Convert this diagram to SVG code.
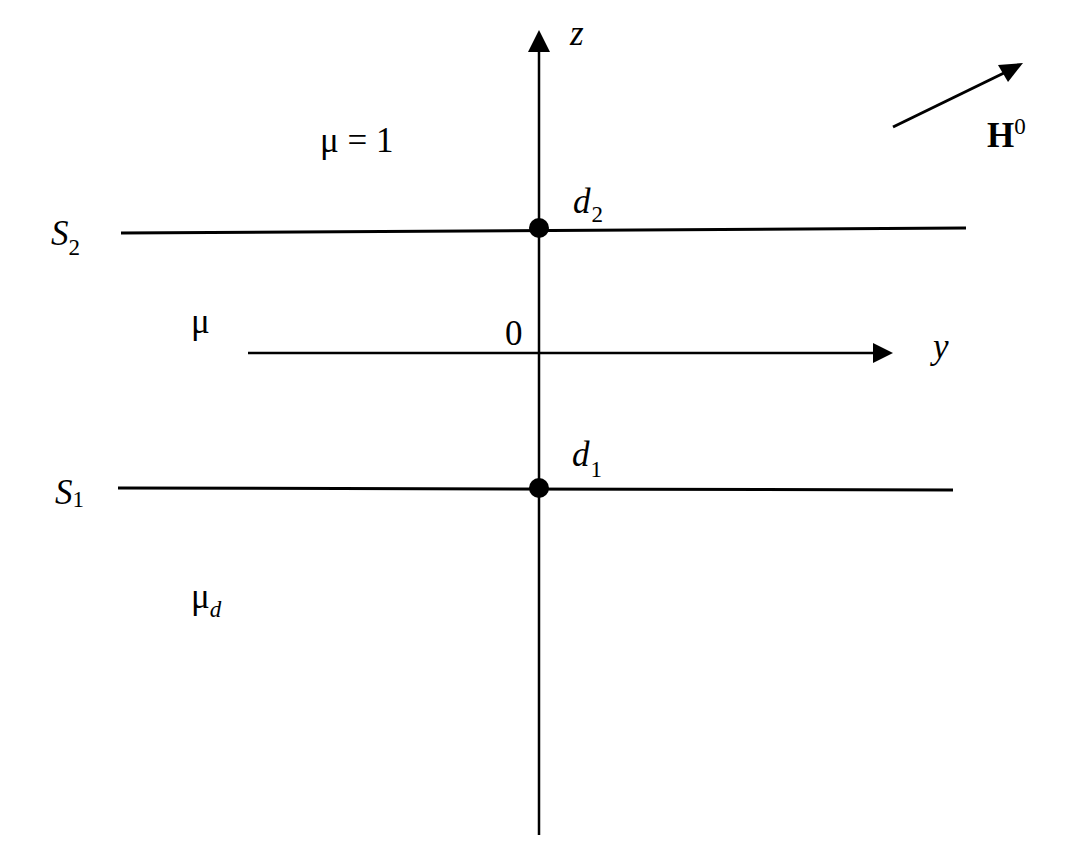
<svg xmlns="http://www.w3.org/2000/svg" width="1078" height="847" viewBox="0 0 1078 847">
<style>
.ln{stroke:#000;stroke-width:3;fill:none}
.ax{stroke:#000;stroke-width:2.5;fill:none}
.t{font-family:"Liberation Serif","Times New Roman",serif;font-size:35px;fill:#000}
.i{font-style:italic}
.sub{font-size:23px}
</style>
<rect width="1078" height="847" fill="#fff"/>
<g id="connectors">
<line class="ax" x1="539" y1="835" x2="539" y2="50"/>
<polygon points="539,30 528,52 550,52" fill="#000"/>
<line class="ax" x1="248" y1="353" x2="876" y2="353"/>
<polygon points="893,353 873,343 873,363" fill="#000"/>
<line class="ln" x1="121" y1="233" x2="966" y2="228"/>
<line class="ln" x1="118" y1="488" x2="953" y2="490"/>
<line class="ln" x1="893" y1="127" x2="1006" y2="72"/>
<polygon points="998,65 1023,63 1008,82" fill="#000"/>
</g>
<g id="d2-point"><circle cx="539" cy="228" r="10" fill="#000"/><text class="t i" x="573" y="213">d<tspan class="sub" dx="1" dy="9" font-style="normal">2</tspan></text></g>
<g id="d1-point"><circle cx="539" cy="488" r="10" fill="#000"/><text class="t i" x="572" y="466">d<tspan class="sub" dx="1" dy="11" font-style="normal">1</tspan></text></g>
<g id="z-label"><text class="t i" x="570" y="45">z</text></g>
<g id="y-label"><text class="t i" x="933" y="358">y</text></g>
<g id="origin"><text class="t" x="505" y="345">0</text></g>
<g id="H0"><text class="t" x="987" y="147" font-size="33" font-weight="bold">H<tspan class="sub" dy="-13" font-weight="normal">0</tspan></text></g>
<g id="mu1"><text class="t" x="320" y="152">μ = 1</text></g>
<g id="mu"><text class="t" x="191" y="333">μ</text></g>
<g id="mud"><text class="t" x="191" y="608">μ<tspan class="sub i" dy="9">d</tspan></text></g>
<g id="S2"><text class="t i" x="51" y="245" font-size="38">S<tspan class="sub" dy="10" font-style="normal">2</tspan></text></g>
<g id="S1"><text class="t i" x="55" y="504" font-size="38">S<tspan class="sub" dy="3" font-style="normal">1</tspan></text></g>
</svg>
